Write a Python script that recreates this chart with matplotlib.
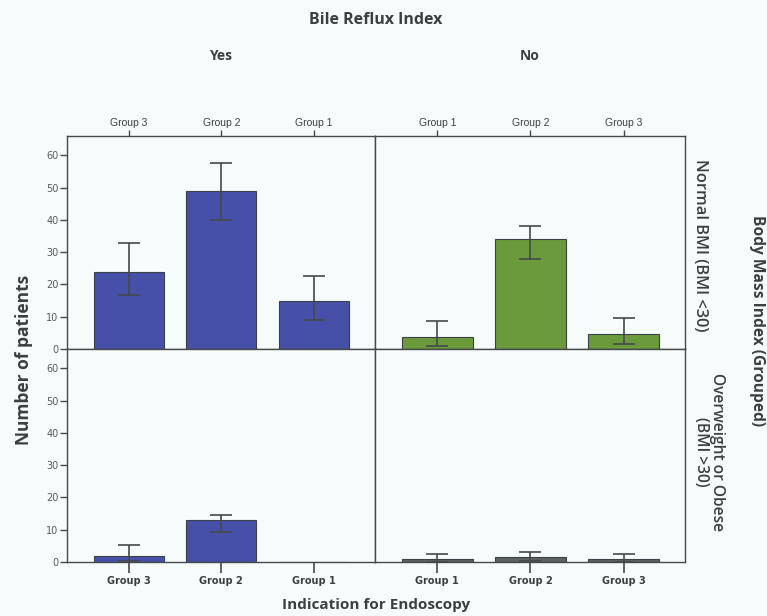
import matplotlib
matplotlib.use("Agg")
import matplotlib.pyplot as plt
import numpy as np

# ---- data ----
groups_yes = ["Group 3", "Group 2", "Group 1"]
groups_no = ["Group 1", "Group 2", "Group 3"]

normal_yes = [24, 49, 15]
normal_yes_lo = [16.7, 40, 9]
normal_yes_hi = [32.7, 57.7, 22.5]

normal_no = [3.7, 34, 4.7]
normal_no_lo = [0.8, 28, 1.6]
normal_no_hi = [8.6, 38, 9.7]

obese_yes = [2, 13, 0]
obese_yes_lo = [0.2, 9.3, 0]
obese_yes_hi = [5.3, 14.5, 0]

obese_no = [0.8, 1.6, 0.8]
obese_no_lo = [0.1, 0.3, 0.1]
obese_no_hi = [2.6, 3.1, 2.6]

yticks = [0, 10, 20, 30, 40, 50, 60]

BLUE = "#4750a8"
GREEN = "#6a9a3c"
GREY = "#5b6262"
BG = "#f6fcfb"
TXT = "#3a3f42"

fig = plt.figure(figsize=(7.67, 6.16), dpi=100, facecolor=BG)

L0, W0 = 66.7 / 767, 308.3 / 767
L1, W1 = 375 / 767, 310 / 767
H = 213 / 616
B_top = 1 - 349 / 616
B_bot = 1 - 562 / 616

panels = [
    (L0, B_top, W0, groups_yes, normal_yes, normal_yes_lo, normal_yes_hi, BLUE, True, "top"),
    (L1, B_top, W1, groups_no, normal_no, normal_no_lo, normal_no_hi, GREEN, False, "top"),
    (L0, B_bot, W0, groups_yes, obese_yes, obese_yes_lo, obese_yes_hi, BLUE, True, "bottom"),
    (L1, B_bot, W1, groups_no, obese_no, obese_no_lo, obese_no_hi, GREY, False, "bottom"),
]

for (l, b, w, cats, vals, lo, hi, col, showy, xside) in panels:
    ax = fig.add_axes([l, b, w, H])
    ax.set_facecolor(BG)
    x = np.arange(len(cats))
    ax.bar(x, vals, width=0.76, color=col, edgecolor="#3c4048", linewidth=0.8, zorder=2)
    vals_a = np.array(vals, float)
    lo_a = np.array(lo, float)
    hi_a = np.array(hi, float)
    mask = hi_a > 0
    ax.errorbar(x[mask], vals_a[mask],
                yerr=[vals_a[mask] - lo_a[mask], hi_a[mask] - vals_a[mask]],
                fmt="none", ecolor="#45494c", elinewidth=1.2, capsize=8, capthick=1.2, zorder=3)
    ax.set_xlim(-0.67, 2.66)
    ax.set_ylim(0, 66)
    for s in ax.spines.values():
        s.set_color("#45494c")
        s.set_linewidth(1.0)
    ax.set_xticks(x)
    if xside == "top":
        ax.xaxis.tick_top()
        ax.set_xticklabels(cats, fontsize=7.5, family="Liberation Sans", color=TXT)
        ax.tick_params(axis="x", direction="out", length=4, width=1, color="#45494c", pad=2)
    else:
        ax.set_xticklabels(cats, fontsize=7, family="DejaVu Sans", fontweight="bold", color=TXT)
        ax.tick_params(axis="x", direction="out", length=8, width=1.2, color="#45494c", pad=2)
    if showy:
        ax.set_yticks(yticks)
        ax.set_yticklabels([str(t) for t in yticks], fontsize=7, family="DejaVu Sans", color="#555a5c")
        ax.tick_params(axis="y", direction="out", length=5, width=1, color="#45494c", pad=1)
    else:
        ax.set_yticks([])

title_font = dict(family="Open Sans", fontweight="bold", color=TXT)
fig.text(376 / 767, 1 - 20 / 616, "Bile Reflux Index", ha="center", va="center", fontsize=11.5, **title_font)
fig.text(221 / 767, 1 - 56 / 616, "Yes", ha="center", va="center", fontsize=10, **title_font)
fig.text(530 / 767, 1 - 56 / 616, "No", ha="center", va="center", fontsize=10, **title_font)
fig.text(24 / 767, 1 - 360 / 616, "Number of patients", ha="center", va="center",
         rotation=90, fontsize=12.5, **title_font)
fig.text(376 / 767, 1 - 605 / 616, "Indication for Endoscopy", ha="center", va="center",
         fontsize=11, **title_font)
fig.text(700 / 767, 1 - 245 / 616, "Normal BMI (BMI <30)", ha="center", va="center",
         rotation=-90, fontsize=11.8, family="Open Sans", fontweight="semibold", color=TXT)
fig.text(709 / 767, 1 - 452 / 616, "Overweight or Obese\n(BMI >30)", ha="center", va="center",
         rotation=-90, fontsize=11.2, family="Open Sans", fontweight="semibold", color=TXT,
         linespacing=1.0)
fig.text(757 / 767, 1 - 321 / 616, "Body Mass Index (Grouped)", ha="center", va="center",
         rotation=-90, fontsize=11.2, **title_font)

fig.savefig("out.png", dpi=100, facecolor=BG)
